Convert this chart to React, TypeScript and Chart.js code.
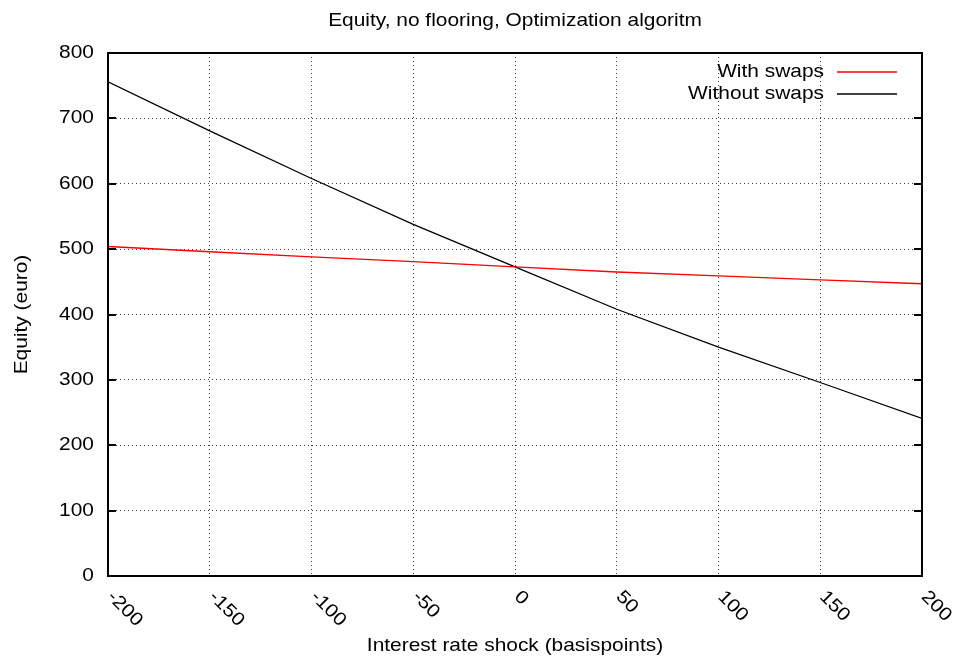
import React, { useEffect, useRef } from "react";
import { Chart, registerables } from "chart.js";

Chart.register(...registerables);

const titleText = "Equity, no flooring, Optimization algoritm";
const xAxisTitle = "Interest rate shock (basispoints)";
const yAxisTitle = "Equity (euro)";
const shocks = [-200, -150, -100, -50, 0, 50, 100, 150, 200];
const withSwaps = [504, 496, 488, 481, 473, 465, 459, 453, 447];
const withoutSwaps = [756, 681, 608, 538, 473, 408, 350, 296, 241];
const xTicks = [-200, -150, -100, -50, 0, 50, 100, 150, 200];
const yTicks = [0, 100, 200, 300, 400, 500, 600, 700, 800];
const seriesNames = ["With swaps", "Without swaps"];
const seriesColors = ["#ff0000", "#000000"];

const FONT = '"Liberation Sans", Arial, Helvetica, sans-serif';
const SX = 1.13;
const FS = 18.5;
const TEXT_COLOR = "#000000";

function drawText(
  ctx: CanvasRenderingContext2D,
  text: string,
  x: number,
  y: number,
  angle: number,
  align: CanvasTextAlign,
  baseline: CanvasTextBaseline,
  size: number
) {
  ctx.save();
  ctx.translate(x, y);
  ctx.rotate(angle);
  ctx.scale(SX, 1);
  ctx.font = `${size}px ${FONT}`;
  ctx.fillStyle = TEXT_COLOR;
  ctx.textAlign = align;
  ctx.textBaseline = baseline;
  ctx.fillText(text, 0, 0);
  ctx.restore();
}

const decorPlugin = {
  id: "gnuplotDecor",
  afterDatasetsDraw(chart: any) {
    const ctx: CanvasRenderingContext2D = chart.ctx;
    const area = chart.chartArea;
    const xs = chart.scales.x;
    const ys = chart.scales.y;

    // border
    ctx.save();
    ctx.strokeStyle = "#000";
    ctx.lineWidth = 2;
    ctx.strokeRect(area.left, area.top, area.right - area.left, area.bottom - area.top);
    // y ticks (inside, mirrored)
    yTicks.forEach((v) => {
      const py = Math.round(ys.getPixelForValue(v));
      ctx.beginPath();
      ctx.moveTo(area.left, py);
      ctx.lineTo(area.left + 8, py);
      ctx.moveTo(area.right, py);
      ctx.lineTo(area.right - 8, py);
      ctx.stroke();
    });
    ctx.restore();

    // title
    drawText(ctx, titleText, (area.left + area.right) / 2, 26, 0, "center", "alphabetic", FS);

    // y tick labels
    yTicks.forEach((v) => {
      drawText(ctx, String(v), area.left - 14, ys.getPixelForValue(v), 0, "right", "middle", FS);
    });

    // x tick labels rotated
    xTicks.forEach((v) => {
      drawText(ctx, String(v), xs.getPixelForValue(v) + 2, area.bottom + 18, Math.PI / 4, "left", "middle", FS);
    });

    // axis titles
    drawText(ctx, xAxisTitle, (area.left + area.right) / 2, 651, 0, "center", "alphabetic", FS);
    drawText(ctx, yAxisTitle, 27, (area.top + area.bottom) / 2, -Math.PI / 2, "center", "alphabetic", FS);

    // legend
    const rows = [72, 94];
    seriesNames.forEach((name, i) => {
      drawText(ctx, name, 824, rows[i], 0, "right", "middle", FS);
      ctx.save();
      ctx.strokeStyle = seriesColors[i];
      ctx.lineWidth = 1.3;
      ctx.beginPath();
      ctx.moveTo(837, rows[i]);
      ctx.lineTo(897, rows[i]);
      ctx.stroke();
      ctx.restore();
    });
  },
};

export default function App() {
  const canvasRef = useRef<HTMLCanvasElement | null>(null);

  useEffect(() => {
    if (!canvasRef.current) return;
    const chart = new Chart(canvasRef.current, {
      type: "line",
      data: {
        datasets: [
          {
            label: seriesNames[0],
            data: shocks.map((x, i) => ({ x, y: withSwaps[i] })),
            borderColor: seriesColors[0],
            borderWidth: 1.3,
            pointRadius: 0,
            tension: 0,
            fill: false,
          },
          {
            label: seriesNames[1],
            data: shocks.map((x, i) => ({ x, y: withoutSwaps[i] })),
            borderColor: seriesColors[1],
            borderWidth: 1.3,
            pointRadius: 0,
            tension: 0,
            fill: false,
          },
        ],
      },
      options: {
        animation: false,
        responsive: true,
        maintainAspectRatio: false,
        layout: { padding: { left: 108, right: 37, top: 53, bottom: 81 } },
        plugins: {
          legend: { display: false },
          title: { display: false },
          tooltip: { enabled: false },
        },
        scales: {
          x: {
            type: "linear",
            min: -200,
            max: 200,
            ticks: { display: false, stepSize: 50 },
            grid: { color: "rgba(0,0,0,0.75)", lineWidth: 1, drawTicks: false, tickLength: 0 },
            border: { display: false, dash: [1, 3] },
            afterFit: (s: any) => {
              s.height = 0;
            },
          },
          y: {
            type: "linear",
            min: 0,
            max: 800,
            ticks: { display: false, stepSize: 100 },
            grid: { color: "rgba(0,0,0,0.75)", lineWidth: 1, drawTicks: false, tickLength: 0 },
            border: { display: false, dash: [1, 3] },
            afterFit: (s: any) => {
              s.width = 0;
            },
          },
        },
      },
      plugins: [decorPlugin],
    });
    return () => chart.destroy();
  }, []);

  return (
    <div style={{ position: "fixed", left: 0, top: 0, width: 959, height: 657, background: "#fff" }}>
      <canvas ref={canvasRef} width={959} height={657} />
    </div>
  );
}
